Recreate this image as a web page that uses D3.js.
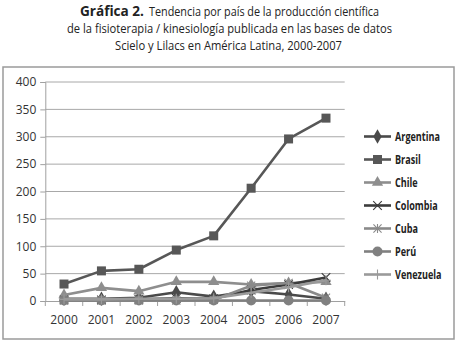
<!DOCTYPE html>
<html>
<head>
<meta charset="utf-8">
<script src="https://cdn.jsdelivr.net/npm/d3@7"></script>
<style>
  html, body { margin: 0; padding: 0; background: #fff; }
  svg { display: block; }
</style>
</head>
<body>
<svg id="chart" width="458" height="349"></svg>
<script>
// Publicaciones por país y año
const years = ["2000", "2001", "2002", "2003", "2004", "2005", "2006", "2007"];
const yTicks = [0, 50, 100, 150, 200, 250, 300, 350, 400];

const argentina = [4, 4, 6, 16, 8, 18, 12, 4];
const brasil    = [31, 55, 58, 93, 119, 206, 296, 334];
const chile     = [11, 24, 18, 35, 35, 30, 33, 35];
const colombia  = [2, 2, 3, 5, 4, 20, 30, 43];
const cuba      = [1, 1, 1, 1, 2, 28, 33, 6];
const peru      = [1, 1, 1, 1, 1, 1, 1, 1];
const venezuela = [3, 3, 4, 4, 5, 15, 25, 38];

const countries = ["Argentina", "Brasil", "Chile", "Colombia", "Cuba", "Perú", "Venezuela"];
const seriesValues = [argentina, brasil, chile, colombia, cuba, peru, venezuela];
const seriesColors = ["#4a4a4a", "#575757", "#8e8e8e", "#3c3c3c", "#8a8a8a", "#808080", "#9a9a9a"];
const seriesMarkers = ["diamond", "square", "triangle", "x", "asterisk", "circle", "plus"];

const titleBold = "Gráfica 2.";
const titleLines = [
  "Tendencia por país de la producción científica",
  "de la fisioterapia / kinesiología publicada en las bases de datos",
  "Scielo y Lilacs en América Latina, 2000-2007"
];

const svg = d3.select("#chart");
const font = "'Open Sans', 'DejaVu Sans', sans-serif";

// Title (condensed to the column width)
function fitText(sel, width) {
  return sel.attr("textLength", width).attr("lengthAdjust", "spacingAndGlyphs");
}
fitText(svg.append("text")
  .attr("x", 80).attr("y", 16)
  .attr("font-family", font).attr("font-weight", "bold").attr("font-size", 15).attr("fill", "#222")
  .text(titleBold), 64);
fitText(svg.append("text")
  .attr("x", 149).attr("y", 16)
  .attr("font-family", font).attr("font-size", 13).attr("fill", "#222")
  .text(titleLines[0]), 230);
fitText(svg.append("text")
  .attr("x", 67).attr("y", 33)
  .attr("font-family", font).attr("font-size", 13).attr("fill", "#222")
  .text(titleLines[1]), 325);
fitText(svg.append("text")
  .attr("x", 115).attr("y", 50)
  .attr("font-family", font).attr("font-size", 13).attr("fill", "#222")
  .text(titleLines[2]), 227);

// Chart frame
svg.append("rect")
  .attr("x", 3).attr("y", 67).attr("width", 451).attr("height", 272)
  .attr("fill", "#fff").attr("stroke", "#9a9a9a").attr("stroke-width", 1.5);

// Scales
const plotLeft = 45.3, plotRight = 344.7;
const x = d3.scaleBand().domain(years).range([plotLeft, plotRight]);
const y = d3.scaleLinear().domain([0, 400]).range([301, 82]);
const cx = d => x(d) + x.bandwidth() / 2;

const g = svg.append("g");

// Horizontal gridlines
g.selectAll("line.grid")
  .data(yTicks.filter(v => v > 0))
  .join("line")
  .attr("class", "grid")
  .attr("x1", plotLeft).attr("x2", plotRight)
  .attr("y1", d => y(d)).attr("y2", d => y(d))
  .attr("stroke", "#a8a8a8").attr("stroke-width", 1);

// Y axis
const yAxis = g.append("g")
  .attr("transform", `translate(${plotLeft},0)`)
  .call(d3.axisLeft(y).tickValues(yTicks).tickSize(5).tickPadding(4));
yAxis.select(".domain").attr("stroke", "#a0a0a0");
yAxis.selectAll(".tick line").attr("stroke", "#a0a0a0");
yAxis.selectAll(".tick text")
  .attr("font-family", "'Open Sans', sans-serif").attr("font-size", 12).attr("fill", "#333");

// X axis with tick marks between categories
const xAxis = g.append("g")
  .attr("transform", `translate(0,${y(0)})`)
  .call(d3.axisBottom(x).tickSize(0).tickPadding(14));
xAxis.select(".domain").attr("stroke", "#a0a0a0");
xAxis.selectAll(".tick text")
  .attr("font-family", "'Open Sans', sans-serif").attr("font-size", 12).attr("fill", "#333");
g.selectAll("line.xtick")
  .data(years.concat(["end"]))
  .join("line")
  .attr("class", "xtick")
  .attr("x1", (d, i) => plotLeft + i * x.step())
  .attr("x2", (d, i) => plotLeft + i * x.step())
  .attr("y1", y(0)).attr("y2", y(0) + 5)
  .attr("stroke", "#a0a0a0");

// Marker shapes
function drawMarker(sel, type, color) {
  switch (type) {
    case "diamond":
      sel.append("path").attr("d", d3.symbol(d3.symbolDiamond, 60)()).attr("fill", color);
      break;
    case "square":
      sel.append("rect").attr("x", -4.5).attr("y", -4.5).attr("width", 9).attr("height", 9).attr("fill", color);
      break;
    case "triangle":
      sel.append("path").attr("d", d3.symbol(d3.symbolTriangle, 55)()).attr("fill", color);
      break;
    case "x":
      sel.append("path").attr("d", d3.symbol(d3.symbolX, 50)()).attr("fill", "none")
        .attr("stroke", color).attr("stroke-width", 1.1);
      break;
    case "asterisk":
      sel.append("path").attr("d", d3.symbol(d3.symbolX, 45)()).attr("fill", "none")
        .attr("stroke", color).attr("stroke-width", 1.1);
      sel.append("line").attr("x1", 0).attr("x2", 0).attr("y1", -4.5).attr("y2", 4.5)
        .attr("stroke", color).attr("stroke-width", 1.1);
      break;
    case "circle":
      sel.append("circle").attr("r", 5).attr("fill", color);
      break;
    case "plus":
      sel.append("path").attr("d", "M-5,0H5M0,-5V5").attr("fill", "none")
        .attr("stroke", color).attr("stroke-width", 1.1);
      break;
  }
}

// Series lines and markers
const line = d3.line().x((d, i) => cx(years[i])).y(d => y(d));
countries.forEach((name, k) => {
  const sg = g.append("g").attr("class", "series");
  sg.append("path")
    .datum(seriesValues[k])
    .attr("d", line)
    .attr("fill", "none")
    .attr("stroke", seriesColors[k])
    .attr("stroke-width", 2.6)
    .attr("stroke-linejoin", "round");
  seriesValues[k].forEach((v, i) => {
    const m = sg.append("g").attr("transform", `translate(${cx(years[i])},${y(v)})`);
    drawMarker(m, seriesMarkers[k], seriesColors[k]);
  });
});

// Legend (labels squeezed horizontally to a condensed width)
const legend = svg.append("g");
const labels = [];
countries.forEach((name, k) => {
  const ly = 136.5 + k * 23;
  const row = legend.append("g").attr("transform", `translate(0,${ly})`);
  row.append("line").attr("x1", 364).attr("x2", 391).attr("y1", 0).attr("y2", 0)
    .attr("stroke", seriesColors[k]).attr("stroke-width", 2.6);
  const m = row.append("g").attr("transform", "translate(377.5,0)");
  drawMarker(m, seriesMarkers[k], seriesColors[k]);
  labels.push(row.append("text")
    .attr("x", 0).attr("y", 4.5)
    .attr("font-family", font).attr("font-weight", "bold")
    .attr("font-size", 13).attr("fill", "#222")
    .text(name));
});
const squeeze = 45 / labels[0].node().getComputedTextLength();
labels.forEach(t => t.attr("transform", `translate(395,0) scale(${squeeze},1)`));
</script>
</body>
</html>
